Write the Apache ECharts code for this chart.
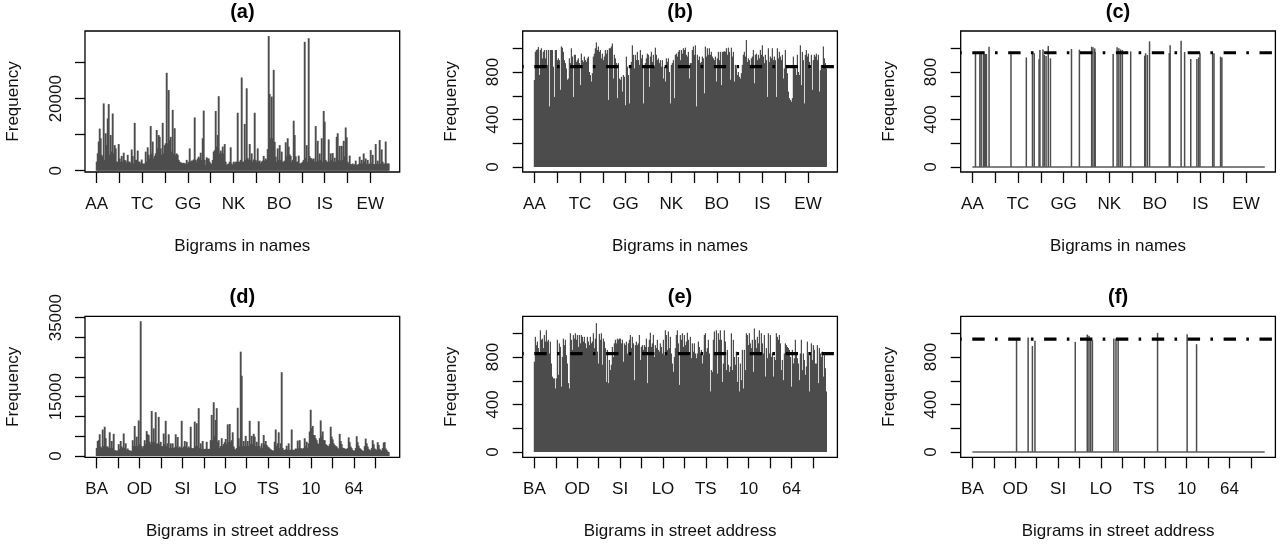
<!DOCTYPE html>
<html><head><meta charset="utf-8">
<script src="https://cdn.jsdelivr.net/npm/echarts@6/dist/echarts.min.js"></script>
<style>html,body{margin:0;padding:0;background:#fff}#c{width:1282px;height:547px}</style>
</head><body><div id="c"></div>
<script>
const nameTickLabels = ['AA','TC','GG','NK','BO','IS','EW'];
const addrTickLabels = ['BA','OD','SI','LO','TS','10','64'];
const nameTicks = [0,52,104,156,208,260,312,364,416,468,520,572,624];
const addrTicks = [0,50,100,150,200,250,300,350,400,450,500,550,600,650];
const countTicks = [0,200,400,600,800,1000];
const countLabels = [0,400,800];
const freqTicksA = [0,10000,20000,30000];
const freqLabelsA = [0,20000];
const freqTicksD = [0,5000,10000,15000,20000,25000,30000,35000];
const freqLabelsD = [0,15000,35000];
const thresholdB = 845, thresholdC = 962, thresholdE = 828, thresholdF = 951;
const nameCount = 667, addrCount = 682;

const freqNamesA = [2500,4800,8100,11700,9000,4400,3900,18700,3000,10400,7100,14500,18500,4400,9900,5300,15900,4800,7100,6200,
2500,2500,7400,3400,2500,4100,2500,5000,3000,2800,2200,4400,2500,2500,2000,5900,4100,2000,13300,3000,
3000,5600,2500,2500,2000,3100,2000,1900,2000,5300,2500,6500,4400,3400,12400,4800,8100,3400,4100,4800,
11300,6200,9900,9400,6200,4400,13300,4800,7100,7600,27200,7600,22400,8500,9400,5300,16900,4800,11800,4400,
4800,4400,3000,2500,2300,2200,2000,2200,2000,2000,3000,2000,2500,6200,2500,2800,2800,3100,14800,3000,
2500,3400,3900,3400,5000,3000,9000,16700,3000,1600,3700,3400,3400,2500,2000,1900,3000,5300,5700,16600,
6700,9900,20700,4800,5600,4800,6700,4800,7400,2500,1600,1800,2000,2500,6500,2000,1600,2500,2000,2500,
2500,16100,2500,2500,3000,25900,2500,2500,13000,3000,22900,3500,3000,7400,3000,4800,2500,3100,16100,3000,
2500,6200,2500,2800,2000,2500,2800,4100,2800,3400,3000,6000,37400,21300,9000,20600,9000,28000,8000,3900,
2500,6200,3000,7100,3000,5300,2500,2500,2800,7900,4000,9000,6700,4500,4100,2500,3000,13900,9900,4000,
2500,2500,4200,2000,2000,2200,2500,3000,35800,3500,7100,2500,36800,4000,3500,3400,3000,3400,2500,12400,
2500,8300,2800,4800,3000,9000,2500,16600,13600,3000,2500,2500,8700,2500,4800,3000,4900,2500,3600,2500,
9400,10400,3000,6900,2800,6900,3000,8300,4000,12000,9300,2500,2000,4200,1800,1800,2000,1600,1800,2800,
1600,1700,1900,3900,2000,3000,2000,4800,2500,3400,1800,3000,1800,2000,5700,2000,4400,1800,1800,7400,
1900,2800,1900,8500,1900,5900,2500,1900,2000,8100,2000,2000,2000];

const freqNamesB = [733,970,985,990,1010,775,985,1000,915,970,985,915,985,860,985,510,985,985,985,845,
590,985,985,900,915,900,650,1015,1005,970,900,875,830,735,745,915,875,1000,930,590,
945,945,885,900,915,875,690,955,900,885,930,900,885,915,930,800,775,720,790,930,
955,1000,1050,985,1015,970,985,915,955,900,930,985,955,985,565,1000,1000,1015,1040,745,
945,915,875,580,875,745,735,760,635,775,760,520,930,845,775,535,860,885,1025,945,
830,945,900,970,900,860,985,915,945,535,845,875,915,955,945,675,930,970,885,945,
845,1005,945,900,915,875,900,845,900,745,845,720,915,885,915,800,535,860,875,900,
580,945,955,930,970,985,900,985,955,1000,985,1005,945,930,970,745,875,875,985,1015,
945,1025,510,945,900,930,875,885,930,915,620,1015,930,1000,945,1000,945,970,930,915,
900,930,720,915,970,900,970,690,970,970,975,970,1000,945,1005,970,735,1005,930,970,
720,860,830,775,800,760,745,790,860,945,970,930,1070,885,915,900,860,915,930,985,
705,945,955,900,945,915,985,945,1025,930,875,945,900,590,1000,885,930,915,1000,900,
930,900,590,1000,915,970,930,900,945,745,830,985,860,790,635,580,565,550,580,930,
860,830,775,945,800,775,1025,690,970,900,535,945,985,930,955,885,830,945,650,900,
945,930,955,900,945,635,815,860,830,1015,915,875,830];

const spikeIndexC = [7,17,20,25,27,30,32,38,88,123,137,141,152,154,161,164,168,173,178,226,244,272,275,279,280,321,330,334,338,342,361,393,395,399,404,449,451,476,484,498,512,516,519,548,551,566,569];
const spikeValueC = [962,952,952,952,952,952,952,1013,957,923,970,957,907,985,990,943,935,1019,915,994,988,1013,1008,999,970,952,1008,999,990,985,974,937,957,943,1058,960,1025,1064,968,909,909,923,957,957,957,929,923];

const freqAddrD = [2000,3800,4000,5500,2400,2000,6700,2500,7400,4500,2400,2400,2000,6000,2000,3800,2000,5600,1500,1400,
1300,1400,3000,1800,3800,2400,2000,5700,2000,3200,1500,1900,1500,1400,1300,1300,4000,2500,7600,2500,
4900,2500,9000,3000,34100,2500,1900,2500,4000,3000,6300,5500,5300,3600,3000,11400,3500,7000,3500,11100,
3000,3200,9900,3000,3600,2500,2500,5700,3000,8900,2500,3200,5500,2000,3200,2000,3200,2000,2200,5500,
2400,4800,2000,2400,2000,8900,2000,2400,3800,2400,3600,2000,2400,2000,7400,2000,1900,2000,8700,2500,
8300,2500,12100,2000,3200,1800,3800,1800,1800,1800,3600,1800,1800,1800,4000,10400,4000,13600,5000,9100,
12100,3500,4000,2000,2500,4500,2500,3000,3500,4300,3000,8000,3500,8100,3500,4000,6000,2400,1800,1500,
2000,12200,4500,2500,26400,20300,2500,3800,2500,5100,2500,3800,2500,8900,3000,5100,3000,5600,4900,2500,
3600,2500,8800,2500,1900,3200,2000,5300,3000,3800,2800,2400,2200,1900,1700,1500,1400,1300,3600,6700,
2500,3200,6000,2000,3200,21200,2000,1500,1500,1700,2600,1600,3200,1500,1600,6700,1600,1500,1600,1900,
1800,3900,1900,4000,2000,1900,1800,2000,4500,2500,3600,2000,3200,6200,11700,7000,7600,5300,5300,4500,
4000,3200,3000,4500,9000,5000,6200,4000,4000,3000,2800,2500,2500,3000,7400,4900,4200,3200,2800,2500,
2400,2000,1800,5600,3800,3000,2100,2000,1900,1800,1700,2000,4700,3500,2400,2000,1500,1400,1300,2000,
5000,3500,2600,2000,1800,1500,1300,1300,2500,4400,3200,2400,1800,1500,1400,2000,4000,3000,1900,1700,
1500,3500,2800,1800,1500,1300,2000,3400,3500,1900,1500,1100,1000];

const freqAddrE = [760,970,900,930,875,830,1025,945,955,875,985,930,1025,930,945,830,930,745,635,620,
620,535,620,945,650,915,885,550,800,955,900,945,815,745,580,535,1000,945,860,985,
955,1000,945,985,885,985,915,985,970,930,970,915,875,970,930,900,970,915,930,1000,
875,955,1085,845,745,995,945,1000,735,955,930,875,590,860,580,775,690,735,885,800,
915,945,915,955,945,955,955,915,945,760,915,900,930,830,915,945,985,875,970,915,
605,900,930,900,915,985,775,885,900,860,900,885,955,580,885,945,1005,885,915,985,
800,900,875,945,860,845,915,885,830,945,815,1025,985,860,1015,875,970,830,745,675,
800,875,985,1025,915,565,985,945,1000,885,985,900,930,1005,945,815,970,790,915,845,
915,830,790,830,930,885,830,860,745,815,985,1000,845,875,945,830,510,690,675,945,
1015,830,1025,660,1000,945,1025,945,590,745,1025,930,690,860,735,675,720,1000,690,945,
800,735,845,590,800,510,745,605,860,535,860,690,1000,985,900,1000,915,875,945,675,
1040,945,875,970,915,1025,830,1000,915,830,985,635,875,790,1000,830,985,800,830,635,
800,775,1000,970,945,985,915,690,775,605,830,915,900,885,875,860,800,550,860,745,
790,945,830,790,745,605,830,945,690,830,775,650,720,930,815,510,830,915,775,900,
860,745,745,900,580,875,830,800,845,635,830,705,510];

const spikeIndexF = [103,130,140,146,240,268,272,276,280,330,335,340,432,501,523];
const spikeValueF = [941,964,893,936,927,989,978,941,941,955,955,955,1003,992,908];

const font = '"Liberation Sans", Arial, Helvetica, sans-serif';
const ink = '#000', barInk = '#4d4d4d';
const cols = [85, 522.7, 960.7];
const rows = [31, 316.3];
const W = 314.7, H = 141;

const panels = [
 {t:'(a)',col:0,row:0,xt:nameTicks,xl:nameTickLabels,name:'Bigrams in names',step:52/22.8,zero:139.7,per:277.8,yt:freqTicksA,yl:freqLabelsA,series:freqNamesA,bw:1.9},
 {t:'(b)',col:1,row:0,xt:nameTicks,xl:nameTickLabels,name:'Bigrams in names',step:52/22.8,zero:136,per:1/0.11875,yt:countTicks,yl:countLabels,series:freqNamesB,bw:1.25,thr:thresholdB},
 {t:'(c)',col:2,row:0,xt:nameTicks,xl:nameTickLabels,name:'Bigrams in names',step:52/22.8,zero:136,per:1/0.11875,yt:countTicks,yl:countLabels,si:spikeIndexC,sv:spikeValueC,n:nameCount,bw:1.5,thr:thresholdC},
 {t:'(d)',col:0,row:1,xt:addrTicks,xl:addrTickLabels,name:'Bigrams in street address',step:50/21.43,zero:139.7,per:253,yt:freqTicksD,yl:freqLabelsD,series:freqAddrD,bw:1.9},
 {t:'(e)',col:1,row:1,xt:addrTicks,xl:addrTickLabels,name:'Bigrams in street address',step:50/21.43,zero:135.7,per:1/0.11875,yt:countTicks,yl:countLabels,series:freqAddrE,bw:1.25,thr:thresholdE},
 {t:'(f)',col:2,row:1,xt:addrTicks,xl:addrTickLabels,name:'Bigrams in street address',step:50/21.43,zero:135.7,per:1/0.11875,yt:countTicks,yl:countLabels,si:spikeIndexF,sv:spikeValueF,n:addrCount,bw:1.5,thr:thresholdF}
];

const option = {animation:false,backgroundColor:'#fff',title:[],grid:[],xAxis:[],yAxis:[],series:[]};
panels.forEach((p,k)=>{
  const left = cols[p.col], top = rows[p.row];
  const xPer = p.step;               // bigrams per pixel
  const xMin = -11.7*xPer, xMax = (W-11.7)*xPer;
  const yMax = p.zero*p.per, yMin = -(H-p.zero)*p.per;
  option.title.push({text:p.t,left:left+W/2,top:top-29.5,padding:0,textAlign:'center',
    textStyle:{fontFamily:font,fontSize:20,fontWeight:'bold',color:ink,lineHeight:22}});
  option.grid.push({left,top,width:W,height:H,show:true,borderColor:ink,borderWidth:1.3,backgroundColor:'transparent',containLabel:false,outerBoundsMode:'none'});
  const labelMap = {};
  p.xl.forEach((s,i)=>labelMap[p.xt[i*2]]=s);
  option.xAxis.push({type:'value',gridIndex:k,min:xMin,max:xMax,
    axisLine:{show:false,onZero:false},splitLine:{show:false},
    axisTick:{show:true,length:11,customValues:p.xt,lineStyle:{color:ink,width:1.3}},
    axisLabel:{show:true,customValues:p.xl.map((s,i)=>p.xt[i*2]),margin:24,fontFamily:font,fontSize:17,color:'#111',formatter:v=>labelMap[v]},
    name:p.name,nameLocation:'middle',nameGap:66,nameTextStyle:{fontFamily:font,fontSize:17,color:'#111'}});
  option.yAxis.push({type:'value',gridIndex:k,min:yMin,max:yMax,
    axisLine:{show:false,onZero:false},splitLine:{show:false},
    axisTick:{show:true,length:10,customValues:p.yt,lineStyle:{color:ink,width:1.3}},
    axisLabel:{show:true,customValues:p.yl,rotate:90,margin:20.5,fontFamily:font,fontSize:17,color:'#111',formatter:v=>String(v)},
    name:'Frequency',nameLocation:'middle',nameGap:63,nameRotate:90,nameTextStyle:{fontFamily:font,fontSize:17,color:'#111'}});
  let data;
  if(p.series) data = p.series.map((v,i)=>[i*p.step,v]);
  else {
    data = p.si.map((x,i)=>[x,p.sv[i]]);
    option.series.push({type:'line',xAxisIndex:k,yAxisIndex:k,data:[[0,0],[p.n,0]],showSymbol:false,silent:true,
      lineStyle:{color:'#5a5a5a',width:1.3},z:2});
  }
  option.series.push({type:'bar',xAxisIndex:k,yAxisIndex:k,data,barWidth:p.bw,itemStyle:{color:barInk},silent:true,z:2});
  if(p.thr!==undefined){
    option.series.push({type:'line',xAxisIndex:k,yAxisIndex:k,data:[[xMin,p.thr],[xMax,p.thr]],showSymbol:false,silent:true,z:5,
      lineStyle:{color:'#000',width:3.2,cap:'butt',type:[12.4,10.3,2.6,10.6],dashOffset:24.3}});
  }
});
const chart = echarts.init(document.getElementById('c'),null,{renderer:'canvas'});
chart.setOption(option);
</script></body></html>
